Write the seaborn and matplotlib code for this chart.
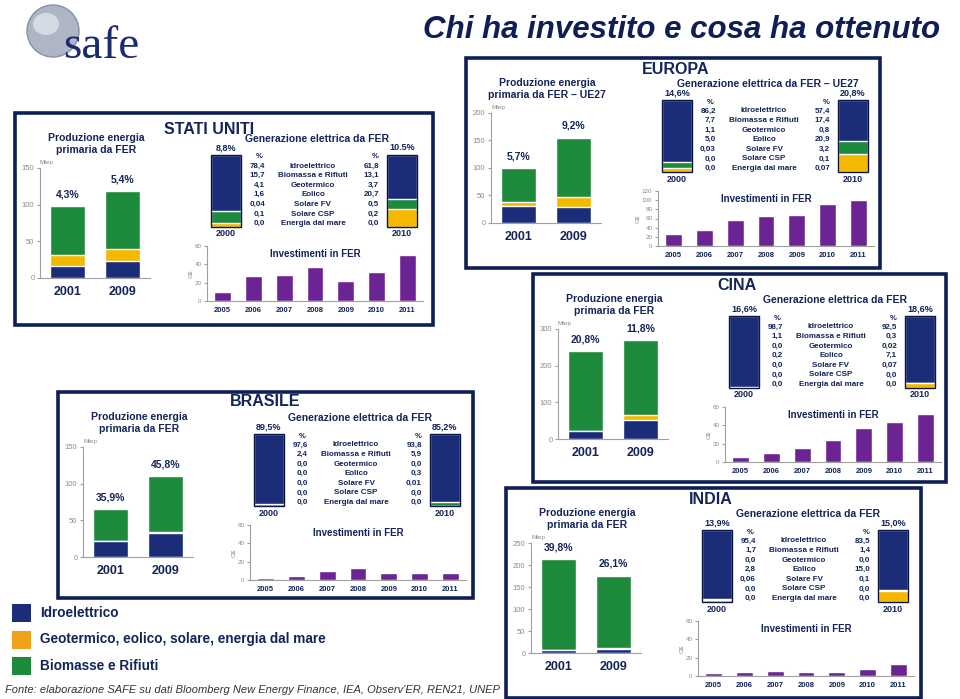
import matplotlib
matplotlib.use('Agg')
import matplotlib.pyplot as plt
from matplotlib.patches import Rectangle, Ellipse
import seaborn as sns

W, H = 960, 699

# ---------------- data ----------------
prod_years = ['2001', '2009']
inv_years = ['2005', '2006', '2007', '2008', '2009', '2010', '2011']
gen_cats = ['Idroelettrico', 'Biomassa e Rifiuti', 'Geotermico', 'Eolico',
            'Solare FV', 'Solare CSP', 'Energia dal mare']

# Stati Uniti
usa_hydro = [16, 23]
usa_other = [16, 17]
usa_bio = [66, 78]
usa_share = ['4,3%', '5,4%']
usa_gen_2000 = ['78,4', '15,7', '4,1', '1,6', '0,04', '0,1', '0,0']
usa_gen_2010 = ['61,8', '13,1', '3,7', '20,7', '0,5', '0,2', '0,0']
usa_gen_share = ['8,8%', '10.5%']
usa_inv = [10, 27, 28, 37, 22, 32, 50]

# Europa (UE27)
eu_hydro = [31, 29]
eu_other = [7, 19]
eu_bio = [62, 107]
eu_share = ['5,7%', '9,2%']
eu_gen_2000 = ['86,2', '7,7', '1,1', '5,0', '0,03', '0,0', '0,0']
eu_gen_2010 = ['57,4', '17,4', '0,8', '20,9', '3,2', '0,1', '0,07']
eu_gen_share = ['14,6%', '20,8%']
eu_inv = [26, 35, 57, 66, 67, 92, 100]

# Cina
cn_hydro = [22, 51]
cn_other = [1, 14]
cn_bio = [217, 205]
cn_share = ['20,8%', '11,8%']
cn_gen_2000 = ['98,7', '1,1', '0,0', '0,2', '0,0', '0,0', '0,0']
cn_gen_2010 = ['92,5', '0,3', '0,02', '7,1', '0,07', '0,0', '0,0']
cn_gen_share = ['16,6%', '18,6%']
cn_inv = [5, 10, 15, 24, 37, 44, 52]

# Brasile
br_hydro = [22, 33]
br_other = [0.5, 0.5]
br_bio = [42.5, 76.5]
br_share = ['35,9%', '45,8%']
br_gen_2000 = ['97,6', '2,4', '0,0', '0,0', '0,0', '0,0', '0,0']
br_gen_2010 = ['93,8', '5,9', '0,0', '0,3', '0,01', '0,0', '0,0']
br_gen_share = ['89,5%', '85,2%']
br_inv = [2.5, 4.5, 10, 13.5, 7.5, 7.5, 7.5]

# India
in_hydro = [6, 9]
in_other = [0.5, 3]
in_bio = [206.5, 164]
in_share = ['39,8%', '26,1%']
in_gen_2000 = ['95,4', '1,7', '0,0', '2,8', '0,06', '0,0', '0,0']
in_gen_2010 = ['83,5', '1,4', '0,0', '15,0', '0,1', '0,0', '0,0']
in_gen_share = ['13,9%', '15,0%']
in_inv = [3, 4.5, 6, 4.5, 4.5, 8, 13]

legend_labels = ['Idroelettrico', 'Geotermico, eolico, solare, energia dal mare',
                 'Biomasse e Rifiuti']

# ---------------- style ----------------
NAVY = '#13245a'
BORDER = '#0e1f55'
HYDRO = '#1b2d78'
YELLOW = '#f4b800'
ORANGE = '#f0a21c'
GREEN = '#1d8a3c'
PURPLE = '#6c2394'
GREY = '#8a8a8a'

sns.set_style('white')
plt.rcParams['font.family'] = ['Liberation Sans', 'DejaVu Sans']

fig = plt.figure(figsize=(9.6, 6.99), dpi=100)


def rect(x0, y0, x1, y1):
    return [x0 / W, 1 - y1 / H, (x1 - x0) / W, (y1 - y0) / H]


def ftext(x, y, s, **kw):
    kw.setdefault('color', NAVY)
    kw.setdefault('ha', 'center')
    kw.setdefault('va', 'center')
    fig.text(x / W, 1 - y / H, s, **kw)


def num(s):
    return float(s.replace(',', '.'))


def style_axis(ax):
    sns.despine(ax=ax)
    for sp in ['left', 'bottom']:
        ax.spines[sp].set_color('#a0a0a0')
        ax.spines[sp].set_linewidth(0.8)
    ax.patch.set_alpha(0)
    ax.set_xlabel('')
    ax.set_ylabel('')


def gen_bar(x0, y0, vals):
    v = [num(s) for s in vals]
    hydro, bio, other = v[0], v[1], sum(v[2:])
    ax = fig.add_axes(rect(x0, y0, x0 + 30, y0 + 72))
    sns.barplot(x=['b'], y=[hydro + bio + other], color=HYDRO, width=1,
                saturation=1, errorbar=None, ax=ax)
    sns.barplot(x=['b'], y=[bio + other], color=GREEN, width=1,
                saturation=1, errorbar=None, ax=ax)
    sns.barplot(x=['b'], y=[other], color=YELLOW, width=1,
                saturation=1, errorbar=None, ax=ax)
    ax.set_xlim(-0.5, 0.5)
    ax.set_ylim(0, hydro + bio + other)
    ax.axis('off')
    fig.patches.append(Rectangle((x0 / W, 1 - (y0 + 72) / H), 30 / W, 72 / H,
                                 transform=fig.transFigure, fill=False,
                                 ec='#0a163f', lw=1.0, zorder=5))


def panel(name, box, title_pos, subtitle, prod_max, prod_ticks, hydro, other,
          bio, share, gen_title, g00, g10, gshare, inv, inv_max, inv_ticks):
    bx, by, bw, bh = box
    fig.patches.append(Rectangle((bx / W, 1 - (by + bh) / H), bw / W, bh / H,
                                 transform=fig.transFigure, fc='white',
                                 ec=BORDER, lw=2.6, zorder=-1))
    ftext(bx + title_pos[0], by + title_pos[1], name, fontsize=11.5,
          fontweight='bold')

    # primary energy production
    ftext(bx + 81, by + 31, subtitle, fontsize=7.5, fontweight='bold',
          linespacing=1.15)
    ax = fig.add_axes(rect(bx + 25, by + 55, bx + 135, by + 165))
    totals = [h + o + b for h, o, b in zip(hydro, other, bio)]
    lower = [h + o for h, o in zip(hydro, other)]
    sns.barplot(x=prod_years, y=totals, color=GREEN, width=0.62, saturation=1,
                errorbar=None, ax=ax)
    sns.barplot(x=prod_years, y=lower, color=YELLOW, width=0.62, saturation=1,
                errorbar=None, ax=ax)
    sns.barplot(x=prod_years, y=hydro, color=HYDRO, width=0.62, saturation=1,
                errorbar=None, ax=ax)
    ax.set_xlim(-0.5, 1.5)
    ax.set_ylim(0, prod_max)
    ax.set_yticks(prod_ticks)
    style_axis(ax)
    ax.tick_params(axis='y', labelsize=5.5, labelcolor=GREY, length=2,
                   color='#a0a0a0', pad=2, left=True)
    ax.tick_params(axis='x', labelsize=9, length=0, pad=6)
    for t in ax.get_xticklabels():
        t.set_fontweight('bold')
        t.set_color(NAVY)
    for i, (t, s) in enumerate(zip(totals, share)):
        ax.annotate(s, (i, t), xytext=(0, 5), textcoords='offset points',
                    ha='center', va='bottom', fontsize=7.5, fontweight='bold',
                    color=NAVY)
    ax.text(0.0, 1.03, 'Mtep', transform=ax.transAxes, fontsize=4.5,
            color=GREY, ha='left', va='bottom')

    # electricity generation
    ftext(bx + 302, by + 26, gen_title, fontsize=7.5, fontweight='bold')
    gen_bar(bx + 196, by + 42, g00)
    gen_bar(bx + 372, by + 42, g10)
    ftext(bx + 211, by + 35, gshare[0], fontsize=6.5, fontweight='bold')
    ftext(bx + 387, by + 35, gshare[1], fontsize=6.5, fontweight='bold')
    ftext(bx + 211, by + 121, '2000', fontsize=6.5, fontweight='bold')
    ftext(bx + 387, by + 121, '2010', fontsize=6.5, fontweight='bold')
    ftext(bx + 244, by + 44, '%', fontsize=5.5, fontweight='bold')
    ftext(bx + 360, by + 44, '%', fontsize=5.5, fontweight='bold')
    for i, cat in enumerate(gen_cats):
        yy = by + 53 + i * 9.6
        ftext(bx + 250, yy, g00[i], fontsize=5.8, fontweight='bold', ha='right')
        ftext(bx + 298, yy, cat, fontsize=5.8, fontweight='bold')
        ftext(bx + 364, yy, g10[i], fontsize=5.8, fontweight='bold', ha='right')

    # investments
    ax2 = fig.add_axes(rect(bx + 192, by + 133, bx + 408, by + 188))
    sns.barplot(x=inv_years, y=inv, color=PURPLE, width=0.55, saturation=1,
                errorbar=None, ax=ax2)
    ax2.set_ylim(0, inv_max)
    ax2.set_yticks(inv_ticks)
    style_axis(ax2)
    ax2.tick_params(axis='y', labelsize=4.5, labelcolor=GREY, length=2,
                    color='#a0a0a0', pad=2, left=True)
    ax2.tick_params(axis='x', labelsize=5.5, length=0, pad=4)
    for t in ax2.get_xticklabels():
        t.set_fontweight('bold')
        t.set_color(NAVY)
    ax2.set_ylabel('G$', fontsize=4.5, color=GREY, labelpad=1)
    ftext(bx + 300, by + 141, 'Investimenti in FER', fontsize=7, fontweight='bold')


sub = 'Produzione energia\nprimaria da FER'
gen_t = 'Generazione elettrica da FER'

panel('STATI UNITI', (15, 113, 418, 212), (194, 16), sub, 150, [0, 50, 100, 150],
      usa_hydro, usa_other, usa_bio, usa_share, gen_t,
      usa_gen_2000, usa_gen_2010, usa_gen_share, usa_inv, 60, [0, 20, 40, 60])
panel('EUROPA', (466, 58, 414, 210), (210, 11), sub + ' \u2013 UE27', 200,
      [0, 50, 100, 150, 200],
      eu_hydro, eu_other, eu_bio, eu_share, gen_t + ' \u2013 UE27',
      eu_gen_2000, eu_gen_2010, eu_gen_share, eu_inv, 120,
      [0, 20, 40, 60, 80, 100, 120])
panel('CINA', (533, 274, 413, 208), (204, 11), sub, 300, [0, 100, 200, 300],
      cn_hydro, cn_other, cn_bio, cn_share, gen_t,
      cn_gen_2000, cn_gen_2010, cn_gen_share, cn_inv, 60, [0, 20, 40, 60])
panel('BRASILE', (58, 392, 415, 206), (207, 10), sub, 150, [0, 50, 100, 150],
      br_hydro, br_other, br_bio, br_share, gen_t,
      br_gen_2000, br_gen_2010, br_gen_share, br_inv, 60, [0, 20, 40, 60])
panel('INDIA', (506, 488, 415, 210), (205, 12), sub, 250,
      [0, 50, 100, 150, 200, 250],
      in_hydro, in_other, in_bio, in_share, gen_t,
      in_gen_2000, in_gen_2010, in_gen_share, in_inv, 60, [0, 20, 40, 60])

# logo and title
fig.patches.append(Ellipse((53 / W, 1 - 31 / H), 52 / W, 52 / H,
                           transform=fig.transFigure, fc='#aeb5c4',
                           ec='#8890a4', lw=1, zorder=1))
fig.patches.append(Ellipse((46 / W, 1 - 24 / H), 26 / W, 22 / H,
                           transform=fig.transFigure, fc='#d6dae3',
                           ec='none', zorder=1))
ftext(101, 47, 'safe', fontsize=34, family=['Liberation Serif', 'DejaVu Serif'],
      color='#1a2c6e')
ftext(682, 30, 'Chi ha investito e cosa ha ottenuto', fontsize=22.5,
      fontweight='bold', style='italic', color='#0f1f55')

# legend
leg_colors = [HYDRO, ORANGE, GREEN]
for i, (lab, c) in enumerate(zip(legend_labels, leg_colors)):
    yc = 613 + i * 26.5
    fig.patches.append(Rectangle((12 / W, 1 - (yc + 9) / H), 19 / W, 18 / H,
                                 transform=fig.transFigure, fc=c, ec='none',
                                 zorder=2))
    ftext(40, yc, lab, fontsize=9.8, fontweight='bold', ha='left')

ftext(5, 690, "Fonte: elaborazione SAFE su dati Bloomberg New Energy Finance, "
      "IEA, Observ'ER, REN21, UNEP", fontsize=8, style='italic',
      color='#333333', ha='left')

fig.savefig('out.png', dpi=100)
